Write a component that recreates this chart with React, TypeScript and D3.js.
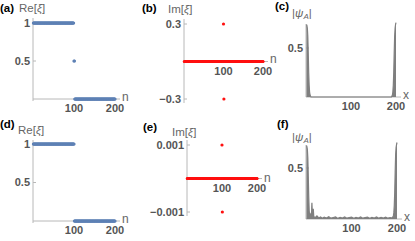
import * as d3 from 'd3';

// x-axis ticks shared by all panels
const nTicks = [100, 200];

// eigenvalues as runs: [first n, last n, value]
const reRunsTop = [[1, 99, 1], [100, 101, 0.5], [102, 200, 0]];
const imRunsTop = [[1, 99, 0], [100, 100, 0.3], [101, 101, -0.3], [102, 200, 0]];
const reRunsBottom = [[1, 100, 1], [101, 200, 0]];
const imRunsBottom = [[1, 99, 0], [100, 100, 0.001], [101, 101, -0.001], [102, 200, 0]];

const reTicks = [0.5, 1];
const imTicksTop = [-0.3, 0.3];
const imTicksBottom = [-0.001, 0.001];
const psiTicks = [0.5];

// |psi_A| at site x: [x, value]
const psiTop = [
  [1, 0.74], [2, 0.73], [3, 0.7], [4, 0.62], [5, 0.45], [6, 0.25], [7, 0.12], [8, 0.05],
  [9, 0.02], [10, 0.01], [11, 0], [190, 0], [191, 0.01], [192, 0.02], [193, 0.05],
  [194, 0.12], [195, 0.25], [196, 0.45], [197, 0.62], [198, 0.7], [199, 0.74], [200, 0.76],
];
const psiBottom = [
  [1, 0.72], [2, 0.71], [3, 0.68], [4, 0.6], [5, 0.42], [6, 0.22], [7, 0.08], [8, 0.03],
  [9, 0.05], [10, 0.02], [11, 0.06], [12, 0.03], [13, 0.16], [14, 0.04], [15, 0.02],
  [16, 0.1], [17, 0.03], [18, 0.02], [21, 0.015], [24, 0.03], [28, 0.01], [32, 0.02],
  [36, 0.008], [40, 0.018], [45, 0.01], [50, 0.022], [55, 0.008], [60, 0.015],
  [65, 0.02], [70, 0.006], [75, 0.016], [80, 0.01], [85, 0.02], [90, 0.008], [95, 0.014],
  [100, 0.018], [105, 0.006], [110, 0.016], [115, 0.01], [120, 0.02], [125, 0.008],
  [130, 0.014], [135, 0.018], [140, 0.006], [145, 0.015], [150, 0.01], [155, 0.02],
  [160, 0.008], [165, 0.016], [170, 0.01], [175, 0.018], [180, 0.008], [185, 0.014],
  [189, 0.01], [191, 0.02], [192, 0.03], [193, 0.06], [194, 0.13], [195, 0.26],
  [196, 0.46], [197, 0.63], [198, 0.7], [199, 0.73], [200, 0.75],
];

const blue = '#5e81b5';
const red = '#ff1010';
const grey = '#7f7f7f';
const axisColor = '#b8b8b8';
const tickColor = '#555';
const font = '"Liberation Sans", Arial, sans-serif';

const fmt = (v) => (v < 0 ? '\u2212' + Math.abs(v) : String(v));
const expand = (runs) => runs.flatMap(([a, b, v]) => d3.range(a, b + 1).map((n) => [n, v]));

function Frame({ x, y, yTicks, yAxis, xName, nameDy, children }) {
  const x0 = x.range()[0];
  const y0 = y(0);
  return (
    <g fontFamily={font}>
      <line x1={x0} x2={x0} y1={yAxis[0]} y2={yAxis[1]} stroke={axisColor} />
      <line x1={x0} x2={x(200) + 5} y1={y0} y2={y0} stroke={axisColor} />
      {yTicks.map((t) => (
        <line key={t} x1={x0} x2={x0 + 3} y1={y(t)} y2={y(t)} stroke={axisColor} />
      ))}
      {children}
      {yTicks.map((t) => (
        <text key={t} x={x0 - 3} y={y(t)} dy="0.35em" textAnchor="end" fontSize={11}
          fontWeight="bold" fill={tickColor}>{fmt(t)}</text>
      ))}
      {nTicks.map((t) => (
        <text key={t} x={x(t)} y={y0 + 13} textAnchor="middle" fontSize={11}
          fontWeight="bold" fill={tickColor}>{t}</text>
      ))}
      <text x={x(200) + 7} y={y0 + nameDy} fontSize={12} fill="#666">{xName}</text>
    </g>
  );
}

function Title({ tag, tx, ty, children, lx, ly }) {
  return (
    <g fontFamily={font}>
      <text x={tx} y={ty} fontSize={11.5} fontWeight="bold" fill="#000">{tag}</text>
      <text x={lx} y={ly} fontSize={11.5} fill="#666">{children}</text>
    </g>
  );
}

function Dots({ x, y, data, color }) {
  return (
    <g fill={color}>
      {data.map(([n, v], i) => (
        <circle key={i} cx={x(n)} cy={y(v)} r={1.6} />
      ))}
    </g>
  );
}

function Psi({ x, y, data }) {
  const area = d3.area().x((d) => x(d[0])).y0(y(0)).y1((d) => y(d[1]));
  const line = d3.line().x((d) => x(d[0])).y((d) => y(d[1]));
  return (
    <g>
      <path d={area(data)} fill={grey} />
      <path d={line(data)} fill="none" stroke={grey} strokeWidth={1.2} />
    </g>
  );
}

const psiLabel = (
  <>
    |<tspan fontStyle="italic">ψ</tspan>
    <tspan fontStyle="italic" fontSize={8} dy={2}>A</tspan>
    <tspan dy={-2}>|</tspan>
  </>
);

export default function App() {
  const n = [0, 200];
  const xa = d3.scaleLinear().domain(n).range([33, 115]);
  const ya = d3.scaleLinear().domain([0, 1]).range([99, 23]);
  const xb = d3.scaleLinear().domain(n).range([184, 263]);
  const yb = d3.scaleLinear().domain([-0.3, 0.3]).range([99, 24]);
  const xc = d3.scaleLinear().domain(n).range([306, 396]);
  const yc = d3.scaleLinear().domain([0, 0.5]).range([97, 48]);
  const xd = d3.scaleLinear().domain(n).range([33, 115]);
  const yd = d3.scaleLinear().domain([0, 1]).range([221, 144]);
  const xe = d3.scaleLinear().domain(n).range([187, 257]);
  const ye = d3.scaleLinear().domain([-0.001, 0.001]).range([212, 145]);
  const xf = d3.scaleLinear().domain(n).range([306, 397]);
  const yf = d3.scaleLinear().domain([0, 0.5]).range([219, 168]);

  const xi = <>Re[<tspan fontStyle="italic">ξ</tspan>]</>;
  const xiIm = <>Im[<tspan fontStyle="italic">ξ</tspan>]</>;

  return (
    <div style={{ position: 'absolute', left: 0, top: 0 }}>
      <svg width={415} height={241} style={{ display: 'block', background: '#fff' }}>
        <Frame x={xa} y={ya} yTicks={reTicks} yAxis={[18, 101]} xName="n" nameDy={2}>
          <Dots x={xa} y={ya} data={expand(reRunsTop)} color={blue} />
        </Frame>
        <Title tag="(a)" tx={0} ty={12} lx={19} ly={12}>{xi}</Title>

        <Frame x={xb} y={yb} yTicks={imTicksTop} yAxis={[19, 103]} xName="n" nameDy={1}>
          <Dots x={xb} y={yb} data={expand(imRunsTop)} color={red} />
        </Frame>
        <Title tag="(b)" tx={142} ty={12} lx={168} ly={13}>{xiIm}</Title>

        <Frame x={xc} y={yc} yTicks={psiTicks} yAxis={[24, 97]} xName="x" nameDy={2}>
          <Psi x={xc} y={yc} data={psiTop} />
        </Frame>
        <Title tag="(c)" tx={275} ty={10} lx={292} ly={17}>{psiLabel}</Title>

        <Frame x={xd} y={yd} yTicks={reTicks} yAxis={[140, 223]} xName="n" nameDy={2}>
          <Dots x={xd} y={yd} data={expand(reRunsBottom)} color={blue} />
        </Frame>
        <Title tag="(d)" tx={0} ty={128} lx={18} ly={134}>{xi}</Title>

        <Frame x={xe} y={ye} yTicks={imTicksBottom} yAxis={[140, 216]} xName="n" nameDy={3}>
          <Dots x={xe} y={ye} data={expand(imRunsBottom)} color={red} />
        </Frame>
        <Title tag="(e)" tx={143} ty={131} lx={172} ly={136}>{xiIm}</Title>

        <Frame x={xf} y={yf} yTicks={psiTicks} yAxis={[145, 219]} xName="x" nameDy={2}>
          <Psi x={xf} y={yf} data={psiBottom} />
        </Frame>
        <Title tag="(f)" tx={277} ty={128} lx={292} ly={141}>{psiLabel}</Title>
      </svg>
    </div>
  );
}
